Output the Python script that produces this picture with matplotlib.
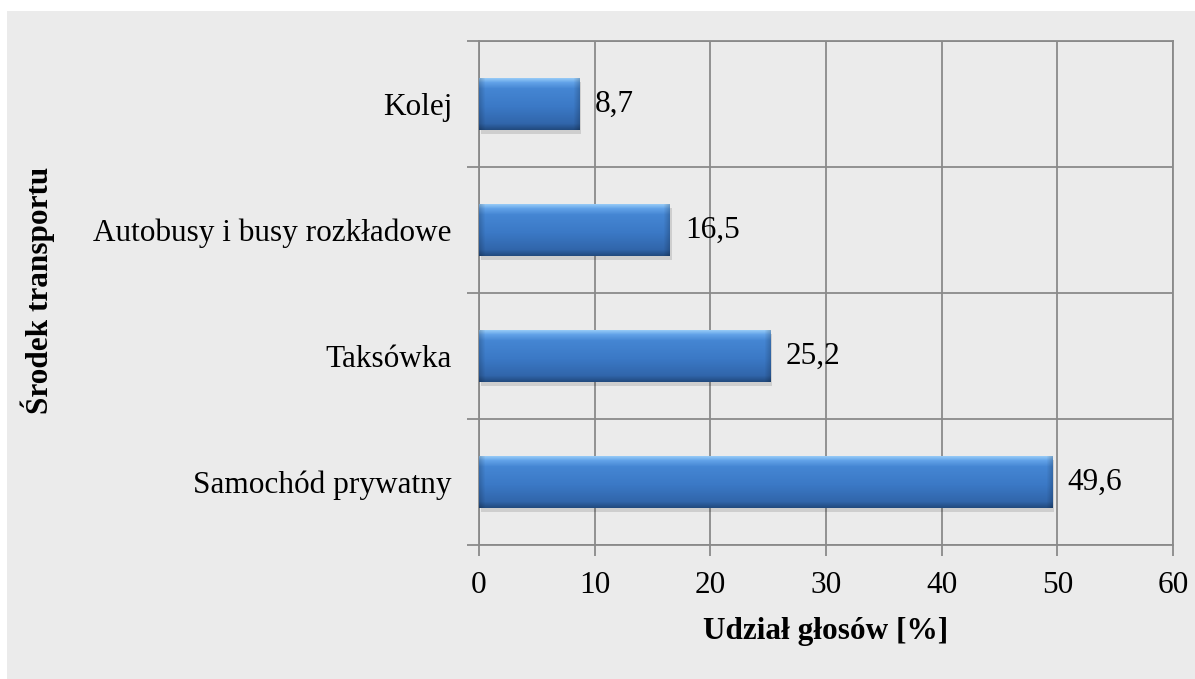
import numpy as np
import matplotlib.pyplot as plt
from matplotlib.patches import Rectangle

# data
categories = ["Samochód prywatny", "Taksówka", "Autobusy i busy rozkładowe", "Kolej"]
values = [49.6, 25.2, 16.5, 8.7]
value_labels = ["49,6", "25,2", "16,5", "8,7"]
xticks = [0, 10, 20, 30, 40, 50, 60]

plt.rcParams['font.family'] = ['Liberation Serif', 'DejaVu Serif']

bg = "#ebebeb"
gridc = "#8a8a8a"
fs = 22.5

fig = plt.figure(figsize=(11.95, 6.79), dpi=100)
fig.patch.set_facecolor("white")
# gray chart area with a white margin at top/left
fig.patches.append(Rectangle((7 / 1195, 0), 1, 1 - 11 / 679, transform=fig.transFigure,
                             facecolor=bg, edgecolor="none", zorder=-10))

ax = fig.add_axes([479 / 1195, 1 - 545 / 679, (1173 - 479) / 1195, (545 - 41) / 679])
ax.set_facecolor(bg)

ypos = np.arange(len(categories))
bar_h = 0.41


def bar_image(npx_w, npx_h):
    # vertical shading: light top edge, mid blue, dark bottom edge
    t = np.linspace(0, 1, npx_h)
    stops = np.array([0.0, 0.08, 0.2, 0.55, 0.88, 1.0])
    cols = np.array([[0x93, 0xc8, 0xf6], [0x62, 0xa2, 0xe8], [0x45, 0x86, 0xd3],
                     [0x3b, 0x79, 0xc6], [0x31, 0x66, 0xab], [0x22, 0x4b, 0x80]]) / 255
    img = np.stack([np.interp(t, stops, cols[:, k]) for k in range(3)], axis=1)
    img = np.repeat(img[:, None, :], npx_w, axis=1)
    # darker bevel at the ends
    x = np.arange(npx_w)
    edge = np.minimum(x, npx_w - 1 - x)
    f = np.clip(edge / 6.0, 0, 1)
    shade = 0.82 + 0.18 * f
    return img * shade[None, :, None]


px_per_unit = (1173 - 479) / 60
for y, v in zip(ypos, values):
    w = max(int(v * px_per_unit), 2)
    # soft shadow
    ax.add_patch(Rectangle((0.15, y - bar_h / 2 - 0.03), v, bar_h, facecolor="black",
                           alpha=0.12, edgecolor="none", zorder=2))
    ax.imshow(bar_image(w, 52), extent=[0, v, y - bar_h / 2, y + bar_h / 2],
              aspect="auto", zorder=3, interpolation="bilinear")

for y, v, lab in zip(ypos, values, value_labels):
    ax.text(v + 1.3, y, lab, va="center", ha="left", fontsize=fs)

ax.set_xlim(0, 60)
ax.set_ylim(-0.5, len(categories) - 0.5)
ax.set_xticks(xticks)
ax.set_xticklabels([str(t) for t in xticks], fontsize=fs)
ax.set_yticks(ypos)
ax.set_yticklabels(categories, fontsize=fs)
ax.set_yticks(np.arange(-0.5, len(categories)), minor=True)

ax.tick_params(axis="y", which="major", length=0, pad=19.5)
ax.tick_params(axis="y", which="minor", length=9, color=gridc, width=1.3)
ax.tick_params(axis="x", length=8, color=gridc, width=1.3, pad=11)

ax.grid(axis="x", which="major", color=gridc, linewidth=1.3, zorder=0)
ax.grid(axis="y", which="minor", color=gridc, linewidth=1.3, zorder=0)
ax.set_axisbelow(True)
for s in ax.spines.values():
    s.set_color(gridc)
    s.set_linewidth(1.3)

ax.set_xlabel("Udział głosów [%]", fontsize=fs, fontweight="bold", labelpad=12)
fig.text(38 / 1195, 1 - 290 / 679, "Środek transportu", rotation=90, va="center", ha="center",
         fontsize=fs, fontweight="bold")

fig.savefig("out.png", dpi=100, facecolor=fig.get_facecolor())
